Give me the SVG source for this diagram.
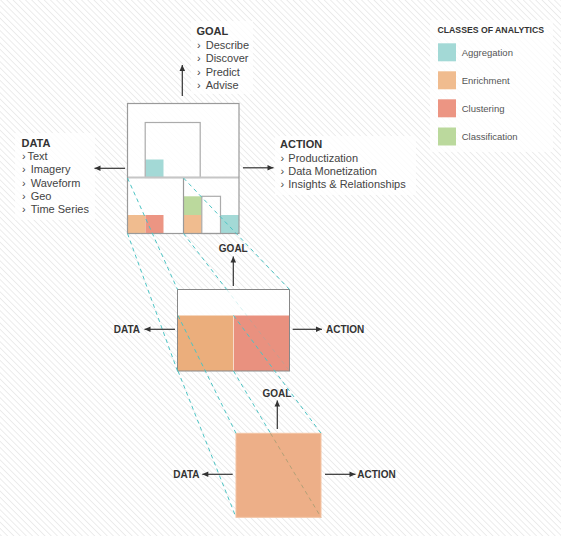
<svg xmlns="http://www.w3.org/2000/svg" width="561" height="536" viewBox="0 0 561 536">
<defs>
<pattern id="hatch" width="4.4" height="4.4" patternUnits="userSpaceOnUse" patternTransform="rotate(-45)">
<line x1="0" y1="0" x2="0" y2="4.4" stroke="#d2d2d2" stroke-width="0.8"/>
</pattern>
<marker id="arrow" markerUnits="userSpaceOnUse" markerWidth="8" markerHeight="8" viewBox="0 0 8 8" refX="7" refY="4" orient="auto">
<path d="M1,1.2 L7,4 L1,6.8 Z" fill="#333"/>
</marker>
<style>
.hd{font-family:"Liberation Sans",Arial,sans-serif;font-weight:bold;fill:#333;}
.it{font-family:"Liberation Sans",Arial,sans-serif;fill:#444;font-size:11px;}
.lg{font-family:"Liberation Sans",Arial,sans-serif;fill:#555;font-size:9.5px;}
.tbg{fill:#fff;fill-opacity:0.78;}
.dash{fill:none;stroke:#4cc4c4;stroke-width:1;stroke-dasharray:4 3.5;}
.arr{fill:none;stroke:#333;stroke-width:1.2;marker-end:url(#arrow);}
.teal{fill:#a3d9d6;}
.orange{fill:#f0bc8f;}
.red{fill:#ec9583;}
.green{fill:#bbd99d;}
</style>
</defs>
<g id="background">
<rect x="0" y="0" width="561" height="536" fill="#fff"/>
<rect x="0" y="0" width="561" height="536" fill="url(#hatch)"/>
</g>
<g id="goal-label">
<rect class="tbg" x="191" y="21" width="62" height="73"/>
<text class="hd" x="196.5" y="35" font-size="11">GOAL</text>
<text class="it" y="48.5"><tspan x="197">›</tspan> <tspan x="205.7">Describe</tspan></text>
<text class="it" y="62"><tspan x="197">›</tspan> <tspan x="205.7">Discover</tspan></text>
<text class="it" y="75.5"><tspan x="197">›</tspan> <tspan x="205.7">Predict</tspan></text>
<text class="it" y="88.5"><tspan x="197">›</tspan> <tspan x="205.7">Advise</tspan></text>
</g>
<g id="data-label">
<rect class="tbg" x="15" y="133" width="80" height="87"/>
<text class="hd" x="21.5" y="147.3" font-size="11">DATA</text>
<text class="it" y="160"><tspan x="22">›</tspan><tspan x="27.5">Text</tspan></text>
<text class="it" y="173.3"><tspan x="22">›</tspan> <tspan x="30.7">Imagery</tspan></text>
<text class="it" y="186.7"><tspan x="22">›</tspan> <tspan x="30.7">Waveform</tspan></text>
<text class="it" y="200"><tspan x="22">›</tspan> <tspan x="30.7">Geo</tspan></text>
<text class="it" y="213.3"><tspan x="22">›</tspan> <tspan x="30.7">Time Series</tspan></text>
</g>
<g id="action-label">
<rect class="tbg" x="275" y="136" width="141" height="59"/>
<text class="hd" x="280" y="148.3" font-size="11">ACTION</text>
<text class="it" y="161.7"><tspan x="280.5">›</tspan> <tspan x="288.3">Productization</tspan></text>
<text class="it" y="174.5"><tspan x="280.5">›</tspan> <tspan x="288.3">Data Monetization</tspan></text>
<text class="it" y="187.5"><tspan x="280.5">›</tspan> <tspan x="288.3">Insights &amp; Relationships</tspan></text>
</g>
<g id="legend">
<rect class="tbg" x="430" y="20" width="123" height="132"/>
<text class="hd" x="437.5" y="33.3" font-size="8.7">CLASSES OF ANALYTICS</text>
<rect class="teal" x="438" y="43.3" width="18" height="18"/>
<text class="lg" x="461.7" y="55.7">Aggregation</text>
<rect class="orange" x="438" y="71.3" width="18" height="18"/>
<text class="lg" x="461.7" y="83.7">Enrichment</text>
<rect class="red" x="438" y="99.3" width="18" height="18"/>
<text class="lg" x="461.7" y="111.7">Clustering</text>
<rect class="green" x="438" y="127.5" width="18" height="18"/>
<text class="lg" x="461.7" y="139.9">Classification</text>
</g>
<g id="node-top">
<rect x="127.5" y="103.5" width="111.5" height="130" fill="#fff" fill-opacity="0.85"/>
<rect class="teal" x="145.5" y="159.5" width="18" height="18"/>
<rect class="orange" x="127.5" y="215" width="18" height="18.5"/>
<rect class="red" x="145.5" y="215" width="18" height="18.5"/>
<rect class="green" x="183.5" y="196.3" width="18.3" height="18.7"/>
<rect class="orange" x="183.5" y="215" width="18.3" height="18.5"/>
<rect class="teal" x="220.5" y="215" width="18.5" height="18.5"/>
<rect x="145.2" y="122.5" width="55" height="55" fill="none" stroke="#ababab" stroke-width="1.2"/>
<rect x="201.8" y="196.3" width="18.7" height="37.2" fill="none" stroke="#ababab" stroke-width="1.2"/>
<line x1="183.5" y1="177.5" x2="183.5" y2="233.5" stroke="#9a9a9a" stroke-width="1.2"/>
<line x1="127.5" y1="177.5" x2="239" y2="177.5" stroke="#c6c6c6" stroke-width="2"/>
<rect x="127.5" y="103.5" width="111.5" height="130" fill="none" stroke="#9a9a9a" stroke-width="1.2"/>
</g>
<g id="node-middle">
<rect x="177.5" y="289.5" width="112" height="81.5" fill="#fff" fill-opacity="0.85"/>
<rect x="177.5" y="315.5" width="56" height="55.5" fill="#ebae7c"/>
<rect x="233.5" y="315.5" width="56" height="55.5" fill="#e9917f"/>
<line x1="233.5" y1="315.5" x2="233.5" y2="371" stroke="#f8dccb" stroke-width="1"/>
<rect x="177.5" y="289.5" width="112" height="81.5" fill="none" stroke="#888" stroke-width="1"/>
</g>
<g id="node-bottom">
<rect x="236" y="433.3" width="85" height="84" fill="#edaf88" stroke="#f3c3a3" stroke-width="1"/>
</g>
<g id="connectors">
<path class="dash" d="M127.5 178 L177.5 289.5"/>
<path class="dash" d="M127.5 233.5 L177.5 371"/>
<path class="dash" d="M183.5 178 L289.5 289.5"/>
<path class="dash" d="M183.5 233.5 L226.7 289.5"/>
<path class="dash" d="M226.7 289.5 L289.5 371" stroke-opacity="0.22"/>
<path class="dash" d="M178 315.5 L236 433.3"/>
<path class="dash" d="M233.5 315.5 L321 433.3"/>
<path class="dash" d="M178 371 L236 517.3"/>
<path class="dash" d="M233.5 371 L270.5 433.3"/>
<path class="dash" d="M270.5 433.3 L321 517.3" style="stroke:#b3a077"/>
<path class="arr" d="M182.3 96 L182.3 65"/>
<path class="arr" d="M125 168.3 L94.5 168.3"/>
<path class="arr" d="M243 167.8 L273.5 167.8"/>
<path class="arr" d="M233.3 286 L233.3 256.5"/>
<path class="arr" d="M175 329.3 L144.5 329.3"/>
<path class="arr" d="M292.7 329.3 L322 329.3"/>
<path class="arr" d="M277.3 429 L277.3 400.5"/>
<path class="arr" d="M232.7 474.3 L202.3 474.3"/>
<path class="arr" d="M325 474.3 L355.5 474.3"/>
</g>
<g id="middle-labels">
<text class="hd" x="233.3" y="251.7" font-size="10" text-anchor="middle">GOAL</text>
<text class="hd" x="140" y="332.7" font-size="10" text-anchor="end">DATA</text>
<text class="hd" x="326" y="332.7" font-size="10">ACTION</text>
</g>
<g id="bottom-labels">
<text class="hd" x="277" y="396.7" font-size="10" text-anchor="middle">GOAL</text>
<text class="hd" x="199.5" y="477.6" font-size="10" text-anchor="end">DATA</text>
<text class="hd" x="357.3" y="477.6" font-size="10">ACTION</text>
</g>
</svg>
